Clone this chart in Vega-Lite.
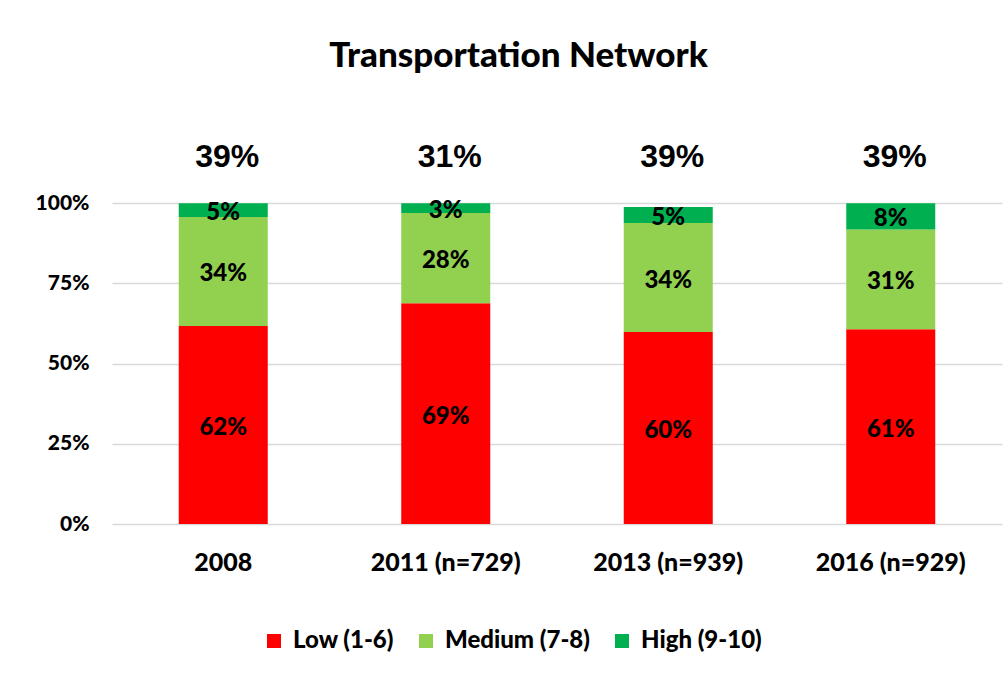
{
  "$schema": "https://vega.github.io/schema/vega-lite/v6.json",
  "width": 890,
  "height": 369,
  "autosize": {"type": "none"},
  "padding": {"left": 112, "top": 155, "right": 6, "bottom": 152},
  "background": "white",
  "config": {"view": {"stroke": null}},
  "title": {
    "text": "Transportation Network",
    "font": "Lato",
    "fontSize": 35,
    "fontWeight": 900,
    "color": "black",
    "anchor": "middle",
    "frame": "bounds",
    "offset": 67
  },
  "datasets": {
    "segs": [
      {"year": "2008", "category": "Low (1-6)", "order": 1, "value": 61.7, "label": "62%"},
      {"year": "2008", "category": "Medium (7-8)", "order": 2, "value": 34.0, "label": "34%"},
      {"year": "2008", "category": "High (9-10)", "order": 3, "value": 4.3, "label": "5%"},
      {"year": "2011 (n=729)", "category": "Low (1-6)", "order": 1, "value": 68.8, "label": "69%"},
      {"year": "2011 (n=729)", "category": "Medium (7-8)", "order": 2, "value": 28.1, "label": "28%"},
      {"year": "2011 (n=729)", "category": "High (9-10)", "order": 3, "value": 3.1, "label": "3%"},
      {"year": "2013 (n=939)", "category": "Low (1-6)", "order": 1, "value": 59.8, "label": "60%"},
      {"year": "2013 (n=939)", "category": "Medium (7-8)", "order": 2, "value": 34.0, "label": "34%"},
      {"year": "2013 (n=939)", "category": "High (9-10)", "order": 3, "value": 5.0, "label": "5%"},
      {"year": "2016 (n=929)", "category": "Low (1-6)", "order": 1, "value": 60.7, "label": "61%"},
      {"year": "2016 (n=929)", "category": "Medium (7-8)", "order": 2, "value": 31.1, "label": "31%"},
      {"year": "2016 (n=929)", "category": "High (9-10)", "order": 3, "value": 8.2, "label": "8%"}
    ],
    "totals": [
      {"year": "2008", "total": "39%"},
      {"year": "2011 (n=729)", "total": "31%"},
      {"year": "2013 (n=939)", "total": "39%"},
      {"year": "2016 (n=929)", "total": "39%"}
    ]
  },
  "encoding": {
    "x": {
      "field": "year",
      "type": "nominal",
      "scale": {"paddingInner": 0.6, "paddingOuter": 0.3},
      "axis": {
        "title": null,
        "labelAngle": 0,
        "domain": false,
        "ticks": false,
        "labelPadding": 26,
        "labelFont": "Lato",
        "labelFontSize": 25,
        "labelFontWeight": 900,
        "labelColor": "black"
      }
    }
  },
  "layer": [
    {
      "data": {"name": "segs"},
      "mark": {"type": "bar"},
      "encoding": {
        "y": {
          "field": "value",
          "type": "quantitative",
          "stack": "zero",
          "scale": {"domain": [0, 115], "nice": false},
          "axis": {
            "title": null,
            "values": [0, 25, 50, 75, 100],
            "labelExpr": "datum.value + '%'",
            "domain": false,
            "ticks": false,
            "gridColor": "#d9d9d9",
            "gridWidth": 1.5,
            "labelPadding": 23,
            "labelFont": "Lato",
            "labelFontSize": 21,
            "labelFontWeight": 900,
            "labelColor": "black"
          }
        },
        "color": {
          "field": "category",
          "type": "nominal",
          "scale": {
            "domain": ["Low (1-6)", "Medium (7-8)", "High (9-10)"],
            "range": ["#FF0000", "#92D050", "#00B050"]
          },
          "legend": {
            "title": null,
            "orient": "none",
            "direction": "horizontal",
            "legendX": 150,
            "legendY": 474,
            "symbolType": "square",
            "symbolSize": 196,
            "symbolStrokeWidth": 0,
            "symbolOpacity": 1,
            "labelFont": "Lato",
            "labelFontSize": 24,
            "labelFontWeight": 900,
            "labelColor": "black",
            "columnPadding": 20,
            "labelOffset": 7
          }
        },
        "order": {"field": "order"}
      }
    },
    {
      "data": {"name": "segs"},
      "transform": [
        {"stack": "value", "groupby": ["year"], "sort": [{"field": "order"}], "as": ["v0", "v1"]},
        {"fold": ["v0", "v1"], "as": ["edge", "pos"]},
        {"aggregate": [{"op": "mean", "field": "pos", "as": "mid"}], "groupby": ["year", "category", "label"]}
      ],
      "mark": {"type": "text", "font": "Lato", "fontSize": 24, "fontWeight": 900, "color": "black", "baseline": "middle", "dy": 3},
      "encoding": {
        "y": {"field": "mid", "type": "quantitative"},
        "text": {"field": "label"}
      }
    },
    {
      "data": {"name": "totals"},
      "mark": {"type": "text", "font": "Liberation Sans", "fontSize": 32, "fontWeight": "bold", "color": "black", "baseline": "middle", "dx": 4},
      "encoding": {
        "y": {"datum": 114.3, "type": "quantitative"},
        "text": {"field": "total"}
      }
    }
  ]
}
